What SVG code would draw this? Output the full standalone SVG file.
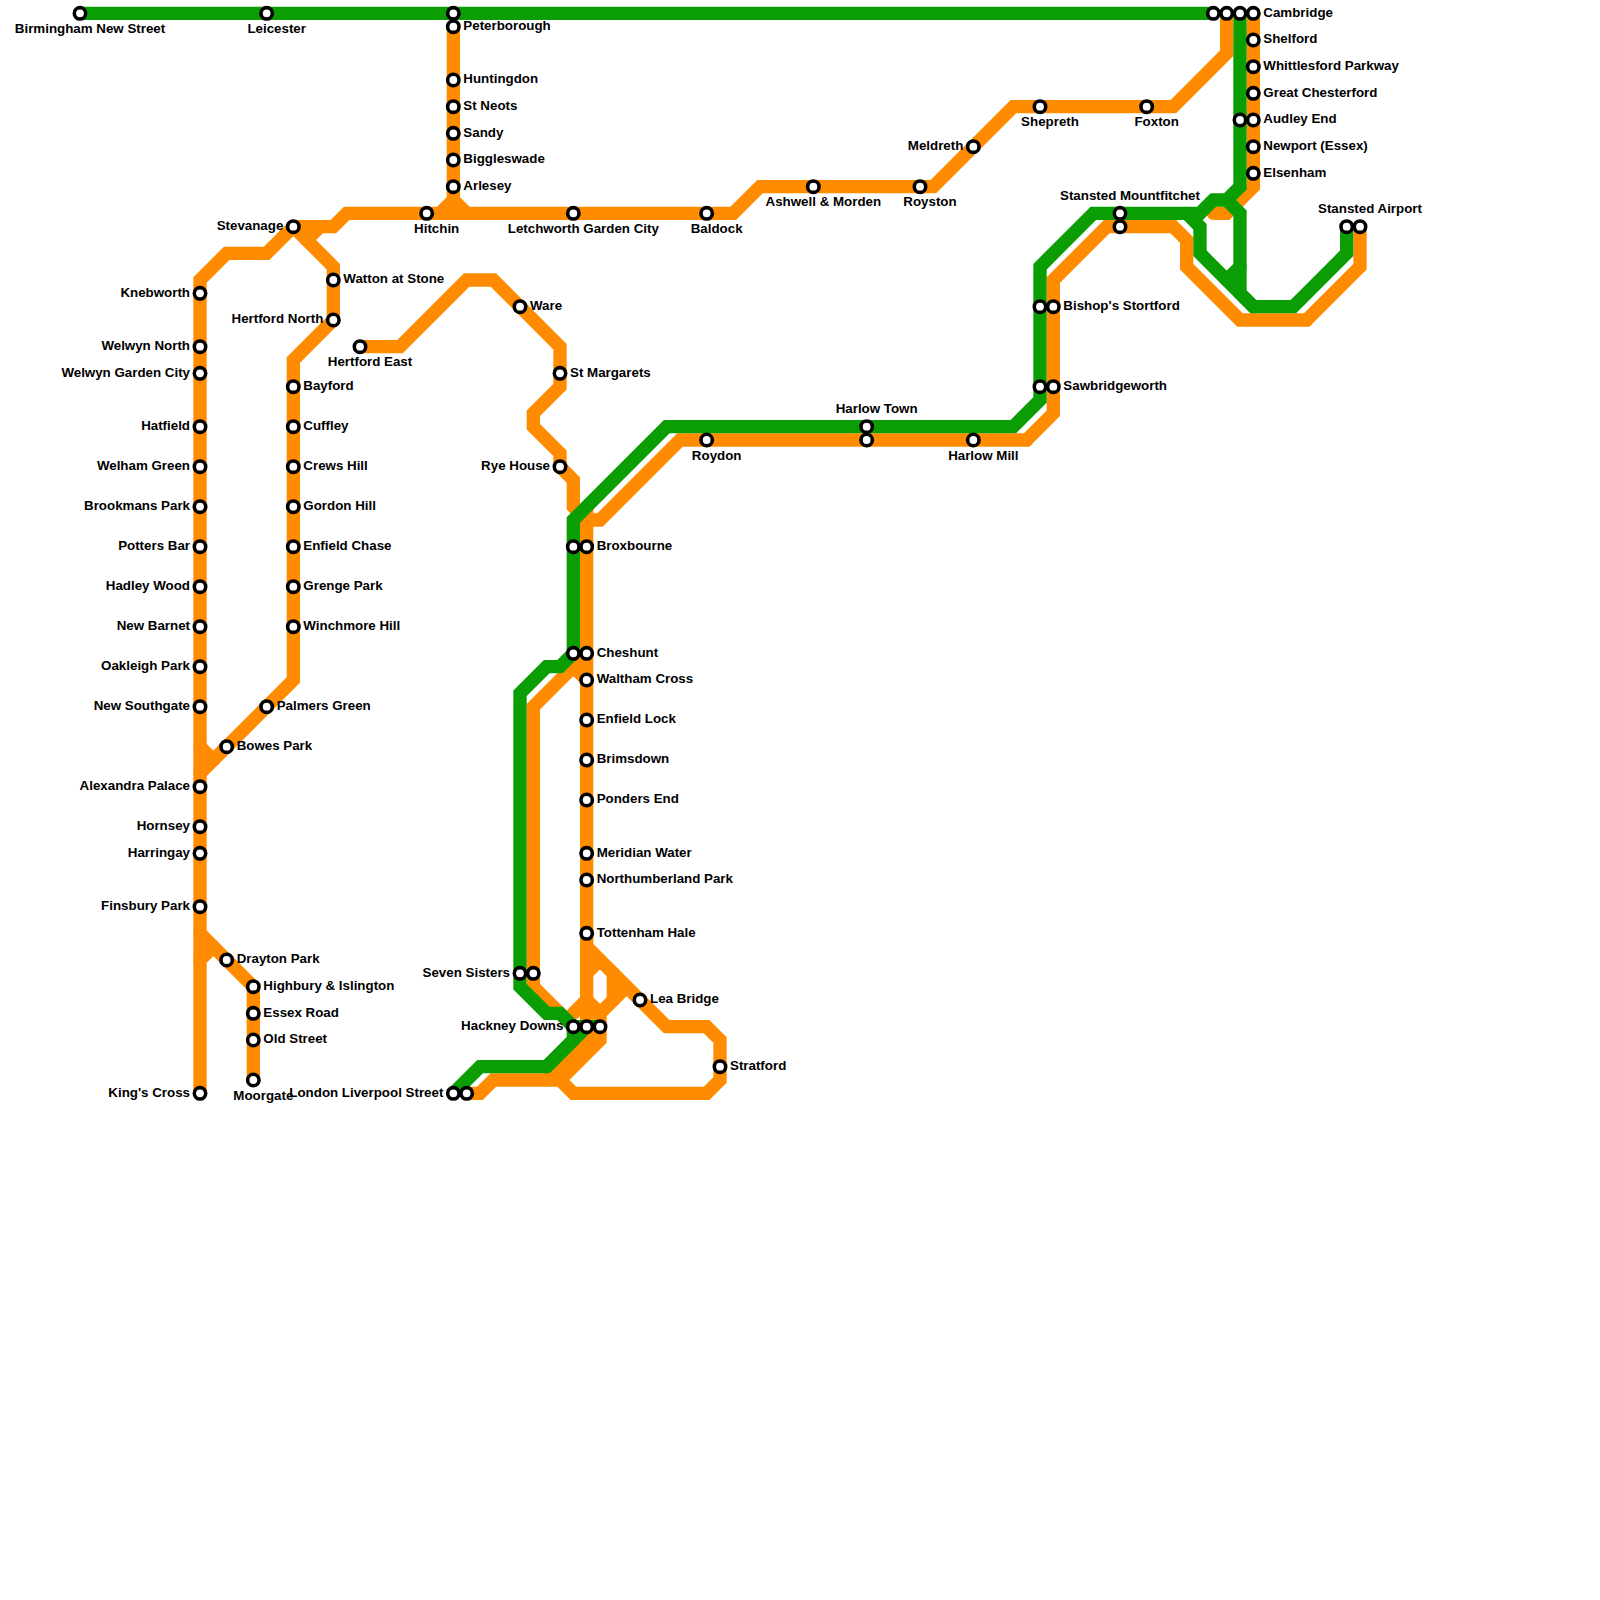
<svg xmlns="http://www.w3.org/2000/svg" width="1600" height="1600" viewBox="0 0 1600 1600">
<style>
.bg{fill:#fff}
.l{fill:none;stroke-width:1;stroke-linejoin:miter;stroke-linecap:round}
.o{stroke:#ff8c00}
.g{stroke:#0a9e04}
circle{fill:#fff;stroke:#000;stroke-width:3.6}
text{font-family:"Liberation Sans",Arial,sans-serif;font-weight:700;font-size:13.33px;fill:#000}
.e{text-anchor:end}
.m{text-anchor:middle}
</style>
<rect class="bg" width="1600" height="1600"/>
<g id="connectors" transform="scale(13.33333)">
<g class="l o">
<path d="M92 1V4L88 8H76L70 14H57L55 16H26L25 17H22L20 19H17L15 21V82"/>
<path d="M22 17L25 20V24L22 27V51L15 58"/>
<path d="M23 18L24 17"/>
<path d="M15 56L16 57"/>
<path d="M15 70L19 74V81"/>
<path d="M15 72L16 71"/>
<path d="M34 2V15L33 16M34 15L35 16"/>
<path d="M27 26H30L35 21H37L42 26V29L40 31V32L42 34V35L43 36V38L44 39H45L51 33H77L79 31V21L83 17H88L89 18V20L93 24H98L102 20V17"/>
<path d="M43 40L44 39V77"/>
<path d="M94 1V14L92 16H91"/>
<path d="M46 75V73"/>
<path d="M44 73L45 72M44 75L45 76M44 75L43 76"/>
<path d="M47 74L45 76V78L42 81L43 82H53L54 81V78L53 77H50L44 71"/>
<path d="M35 82H36L37 81H42"/>
<path d="M41 81L45 77"/>
<path d="M44 49L40 53V74L43 77M43 50L44 51"/>
</g>
<g class="l g">
<path d="M6 1H91"/>
<path d="M93 1V14L92 15H91L90 16H82L78 20V30L76 32H50L43 39V49L42 50H41L39 52V74L41 76H42L43 77V78L41 80H36L34 82"/>
<path d="M43 77H44L41 80"/>
<path d="M92 15L93 16V22L94 23H97L101 19V17"/>
<path d="M89 16L90 17V19L94 23"/>
<path d="M93 20L92 21"/>
</g>
</g>
<g id="stations">
<g id="birmingham"><circle cx="80" cy="13.33" r="5.7"/><text class="m" x="90" y="33">Birmingham New Street</text></g>
<g id="leicester"><circle cx="266.67" cy="13.33" r="5.7"/><text class="m" x="276.67" y="33">Leicester</text></g>
<g id="peterborough"><circle cx="453.33" cy="13.33" r="5.7"/><circle cx="453.33" cy="26.67" r="5.7"/><text x="463.33" y="30">Peterborough</text></g>
<g id="huntingdon"><circle cx="453.33" cy="80" r="5.7"/><text x="463.33" y="83.3">Huntingdon</text></g>
<g id="stneots"><circle cx="453.33" cy="106.67" r="5.7"/><text x="463.33" y="110">St Neots</text></g>
<g id="sandy"><circle cx="453.33" cy="133.33" r="5.7"/><text x="463.33" y="136.6">Sandy</text></g>
<g id="biggleswade"><circle cx="453.33" cy="160" r="5.7"/><text x="463.33" y="163.3">Biggleswade</text></g>
<g id="arlesey"><circle cx="453.33" cy="186.67" r="5.7"/><text x="463.33" y="190">Arlesey</text></g>
<g id="hitchin"><circle cx="426.67" cy="213.33" r="5.7"/><text class="m" x="436.67" y="233">Hitchin</text></g>
<g id="letchworth"><circle cx="573.33" cy="213.33" r="5.7"/><text class="m" x="583.33" y="233">Letchworth Garden City</text></g>
<g id="baldock"><circle cx="706.67" cy="213.33" r="5.7"/><text class="m" x="716.67" y="233">Baldock</text></g>
<g id="ashwell"><circle cx="813.33" cy="186.67" r="5.7"/><text class="m" x="823.33" y="206.3">Ashwell &amp; Morden</text></g>
<g id="royston"><circle cx="920" cy="186.67" r="5.7"/><text class="m" x="930" y="206.3">Royston</text></g>
<g id="meldreth"><circle cx="973.33" cy="146.67" r="5.7"/><text class="e" x="963.33" y="150">Meldreth</text></g>
<g id="shepreth"><circle cx="1040" cy="106.67" r="5.7"/><text class="m" x="1050" y="126.3">Shepreth</text></g>
<g id="foxton"><circle cx="1146.67" cy="106.67" r="5.7"/><text class="m" x="1156.67" y="126.3">Foxton</text></g>
<g id="cambridge"><circle cx="1213.33" cy="13.33" r="5.7"/><circle cx="1226.67" cy="13.33" r="5.7"/><circle cx="1240" cy="13.33" r="5.7"/><circle cx="1253.33" cy="13.33" r="5.7"/><text x="1263.33" y="16.6">Cambridge</text></g>
<g id="shelford"><circle cx="1253.33" cy="40" r="5.7"/><text x="1263.33" y="43.3">Shelford</text></g>
<g id="whittlesford"><circle cx="1253.33" cy="66.67" r="5.7"/><text x="1263.33" y="70">Whittlesford Parkway</text></g>
<g id="chesterford"><circle cx="1253.33" cy="93.33" r="5.7"/><text x="1263.33" y="96.6">Great Chesterford</text></g>
<g id="audley"><circle cx="1240" cy="120" r="5.7"/><circle cx="1253.33" cy="120" r="5.7"/><text x="1263.33" y="123.3">Audley End</text></g>
<g id="newport"><circle cx="1253.33" cy="146.67" r="5.7"/><text x="1263.33" y="150">Newport (Essex)</text></g>
<g id="elsenham"><circle cx="1253.33" cy="173.33" r="5.7"/><text x="1263.33" y="176.6">Elsenham</text></g>
<g id="stanstedairport"><circle cx="1346.67" cy="226.67" r="5.7"/><circle cx="1360" cy="226.67" r="5.7"/><text class="m" x="1370" y="213.3">Stansted Airport</text></g>
<g id="mountfitchet"><circle cx="1120" cy="213.33" r="5.7"/><circle cx="1120" cy="226.67" r="5.7"/><text class="m" x="1130" y="200">Stansted Mountfitchet</text></g>
<g id="bishops"><circle cx="1040" cy="306.67" r="5.7"/><circle cx="1053.33" cy="306.67" r="5.7"/><text x="1063.33" y="310">Bishop's Stortford</text></g>
<g id="sawbridgeworth"><circle cx="1040" cy="386.67" r="5.7"/><circle cx="1053.33" cy="386.67" r="5.7"/><text x="1063.33" y="390">Sawbridgeworth</text></g>
<g id="harlowtown"><circle cx="866.67" cy="426.67" r="5.7"/><circle cx="866.67" cy="440" r="5.7"/><text class="m" x="876.67" y="413.3">Harlow Town</text></g>
<g id="harlowmill"><circle cx="973.33" cy="440" r="5.7"/><text class="m" x="983.33" y="459.7">Harlow Mill</text></g>
<g id="roydon"><circle cx="706.67" cy="440" r="5.7"/><text class="m" x="716.67" y="459.7">Roydon</text></g>
<g id="broxbourne"><circle cx="573.33" cy="546.67" r="5.7"/><circle cx="586.67" cy="546.67" r="5.7"/><text x="596.67" y="550">Broxbourne</text></g>
<g id="cheshunt"><circle cx="573.33" cy="653.33" r="5.7"/><circle cx="586.67" cy="653.33" r="5.7"/><text x="596.67" y="656.6">Cheshunt</text></g>
<g id="waltham"><circle cx="586.67" cy="680" r="5.7"/><text x="596.67" y="683.3">Waltham Cross</text></g>
<g id="enfieldlock"><circle cx="586.67" cy="720" r="5.7"/><text x="596.67" y="723.3">Enfield Lock</text></g>
<g id="brimsdown"><circle cx="586.67" cy="760" r="5.7"/><text x="596.67" y="763.3">Brimsdown</text></g>
<g id="ponders"><circle cx="586.67" cy="800" r="5.7"/><text x="596.67" y="803.3">Ponders End</text></g>
<g id="meridian"><circle cx="586.67" cy="853.33" r="5.7"/><text x="596.67" y="856.6">Meridian Water</text></g>
<g id="northumberland"><circle cx="586.67" cy="880" r="5.7"/><text x="596.67" y="883.3">Northumberland Park</text></g>
<g id="tottenham"><circle cx="586.67" cy="933.33" r="5.7"/><text x="596.67" y="936.6">Tottenham Hale</text></g>
<g id="leabridge"><circle cx="640" cy="1000" r="5.7"/><text x="650" y="1003.3">Lea Bridge</text></g>
<g id="stratford"><circle cx="720" cy="1066.67" r="5.7"/><text x="730" y="1070">Stratford</text></g>
<g id="hackney"><circle cx="573.33" cy="1026.67" r="5.7"/><circle cx="586.67" cy="1026.67" r="5.7"/><circle cx="600" cy="1026.67" r="5.7"/><text class="e" x="563.33" y="1030">Hackney Downs</text></g>
<g id="sevensisters"><circle cx="520" cy="973.33" r="5.7"/><circle cx="533.33" cy="973.33" r="5.7"/><text class="e" x="510" y="976.6">Seven Sisters</text></g>
<g id="liverpool"><circle cx="453.33" cy="1093.33" r="5.7"/><circle cx="466.67" cy="1093.33" r="5.7"/><text class="e" x="443.33" y="1096.6">London Liverpool Street</text></g>
<g id="ware"><circle cx="520" cy="306.67" r="5.7"/><text x="530" y="310">Ware</text></g>
<g id="stmargarets"><circle cx="560" cy="373.33" r="5.7"/><text x="570" y="376.6">St Margarets</text></g>
<g id="ryehouse"><circle cx="560" cy="466.67" r="5.7"/><text class="e" x="550" y="470">Rye House</text></g>
<g id="hertfordeast"><circle cx="360" cy="346.67" r="5.7"/><text class="m" x="370" y="366.3">Hertford East</text></g>
<g id="stevenage"><circle cx="293.33" cy="226.67" r="5.7"/><text class="e" x="283.33" y="230">Stevanage</text></g>
<g id="watton"><circle cx="333.33" cy="280" r="5.7"/><text x="343.33" y="283.3">Watton at Stone</text></g>
<g id="hertfordnorth"><circle cx="333.33" cy="320" r="5.7"/><text class="e" x="323.33" y="323.3">Hertford North</text></g>
<g id="bayford"><circle cx="293.33" cy="386.67" r="5.7"/><text x="303.33" y="390">Bayford</text></g>
<g id="cuffley"><circle cx="293.33" cy="426.67" r="5.7"/><text x="303.33" y="430">Cuffley</text></g>
<g id="crewshill"><circle cx="293.33" cy="466.67" r="5.7"/><text x="303.33" y="470">Crews Hill</text></g>
<g id="gordonhill"><circle cx="293.33" cy="506.67" r="5.7"/><text x="303.33" y="510">Gordon Hill</text></g>
<g id="enfieldchase"><circle cx="293.33" cy="546.67" r="5.7"/><text x="303.33" y="550">Enfield Chase</text></g>
<g id="grengepark"><circle cx="293.33" cy="586.67" r="5.7"/><text x="303.33" y="590">Grenge Park</text></g>
<g id="winchmore"><circle cx="293.33" cy="626.67" r="5.7"/><text x="303.33" y="630">Winchmore Hill</text></g>
<g id="palmers"><circle cx="266.67" cy="706.67" r="5.7"/><text x="276.67" y="710">Palmers Green</text></g>
<g id="bowes"><circle cx="226.67" cy="746.67" r="5.7"/><text x="236.67" y="750">Bowes Park</text></g>
<g id="knebworth"><circle cx="200" cy="293.33" r="5.7"/><text class="e" x="190" y="296.6">Knebworth</text></g>
<g id="welwynnorth"><circle cx="200" cy="346.67" r="5.7"/><text class="e" x="190" y="350">Welwyn North</text></g>
<g id="welwyngc"><circle cx="200" cy="373.33" r="5.7"/><text class="e" x="190" y="376.6">Welwyn Garden City</text></g>
<g id="hatfield"><circle cx="200" cy="426.67" r="5.7"/><text class="e" x="190" y="430">Hatfield</text></g>
<g id="welham"><circle cx="200" cy="466.67" r="5.7"/><text class="e" x="190" y="470">Welham Green</text></g>
<g id="brookmans"><circle cx="200" cy="506.67" r="5.7"/><text class="e" x="190" y="510">Brookmans Park</text></g>
<g id="potters"><circle cx="200" cy="546.67" r="5.7"/><text class="e" x="190" y="550">Potters Bar</text></g>
<g id="hadley"><circle cx="200" cy="586.67" r="5.7"/><text class="e" x="190" y="590">Hadley Wood</text></g>
<g id="newbarnet"><circle cx="200" cy="626.67" r="5.7"/><text class="e" x="190" y="630">New Barnet</text></g>
<g id="oakleigh"><circle cx="200" cy="666.67" r="5.7"/><text class="e" x="190" y="670">Oakleigh Park</text></g>
<g id="newsouthgate"><circle cx="200" cy="706.67" r="5.7"/><text class="e" x="190" y="710">New Southgate</text></g>
<g id="alexandra"><circle cx="200" cy="786.67" r="5.7"/><text class="e" x="190" y="790">Alexandra Palace</text></g>
<g id="hornsey"><circle cx="200" cy="826.67" r="5.7"/><text class="e" x="190" y="830">Hornsey</text></g>
<g id="harringay"><circle cx="200" cy="853.33" r="5.7"/><text class="e" x="190" y="856.6">Harringay</text></g>
<g id="finsbury"><circle cx="200" cy="906.67" r="5.7"/><text class="e" x="190" y="910">Finsbury Park</text></g>
<g id="drayton"><circle cx="226.67" cy="960" r="5.7"/><text x="236.67" y="963.3">Drayton Park</text></g>
<g id="highbury"><circle cx="253.33" cy="986.67" r="5.7"/><text x="263.33" y="990">Highbury &amp; Islington</text></g>
<g id="essexroad"><circle cx="253.33" cy="1013.33" r="5.7"/><text x="263.33" y="1016.6">Essex Road</text></g>
<g id="oldstreet"><circle cx="253.33" cy="1040" r="5.7"/><text x="263.33" y="1043.3">Old Street</text></g>
<g id="moorgate"><circle cx="253.33" cy="1080" r="5.7"/><text class="m" x="263.33" y="1099.7">Moorgate</text></g>
<g id="kingscross"><circle cx="200" cy="1093.33" r="5.7"/><text class="e" x="190" y="1096.6">King's Cross</text></g>
</g>
</svg>
